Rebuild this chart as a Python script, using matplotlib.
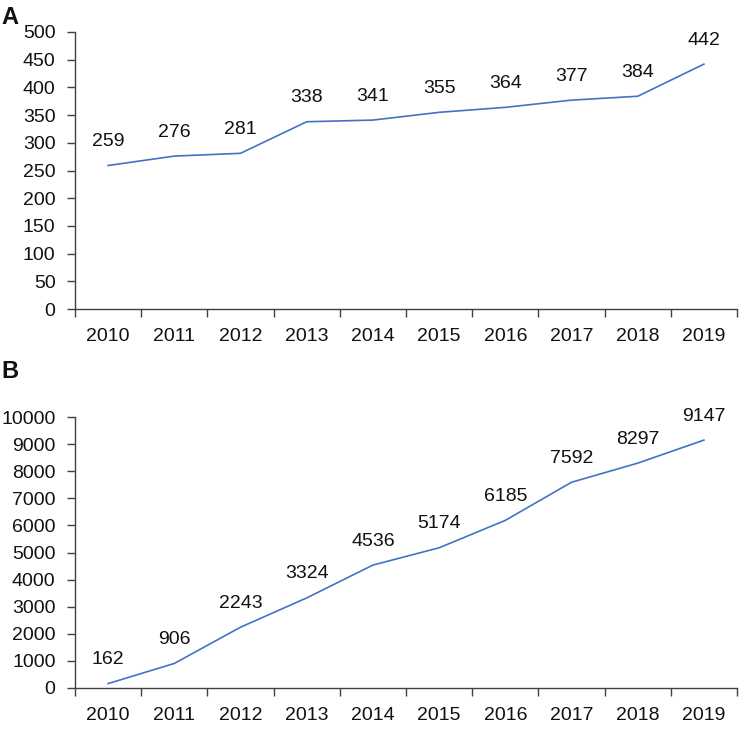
import matplotlib
matplotlib.use("Agg")
import matplotlib.pyplot as plt
import numpy as np

years = ["2010", "2011", "2012", "2013", "2014", "2015", "2016", "2017", "2018", "2019"]
values_a = [259, 276, 281, 338, 341, 355, 364, 377, 384, 442]
values_b = [162, 906, 2243, 3324, 4536, 5174, 6185, 7592, 8297, 9147]
yticks_a = list(range(0, 501, 50))
yticks_b = list(range(0, 10001, 1000))

plt.rcParams['font.family'] = ['Liberation Sans', 'DejaVu Sans']
FS = 14
TXT = '#111111'
AX = '#404040'
LINE = '#4472C4'

fig = plt.figure(figsize=(7.5, 7.32), dpi=100)
W, H = 750, 732

def make_ax(top_px, bottom_px):
    left, right = 75, 737
    return fig.add_axes([left / W, 1 - bottom_px / H, (right - left) / W, (bottom_px - top_px) / H])

def style(ax, vals, yticks):
    x = np.arange(len(years))
    ax.plot(x, vals, color=LINE, lw=1.2)
    for xi, v in zip(x, vals):
        ax.annotate(str(v), (xi, v), xytext=(0, 24), textcoords='offset pixels',
                    ha='center', va='center', fontsize=FS, color=TXT)
    ax.set_xlim(-0.5, len(years) - 0.5)
    ax.set_ylim(yticks[0], yticks[-1])
    ax.set_yticks(yticks)
    ax.set_yticklabels([str(t) for t in yticks])
    ax.set_xticks(np.arange(-0.5, len(years), 1.0))
    ax.set_xticklabels([])
    ax.set_xticks(x, minor=True)
    ax.set_xticklabels(years, minor=True)
    ax.tick_params(axis='x', which='major', length=6, width=1.0, color=AX, direction='out')
    ax.tick_params(axis='x', which='minor', length=0, pad=14, labelsize=FS, labelcolor=TXT)
    ax.tick_params(axis='y', length=6, width=1.0, color=AX, pad=8, labelsize=FS, labelcolor=TXT)
    for s in ['top', 'right']:
        ax.spines[s].set_visible(False)
    for s in ['left', 'bottom']:
        ax.spines[s].set_color(AX)
        ax.spines[s].set_linewidth(1.0)
    ax.patch.set_visible(False)

ax_a = make_ax(32, 309)
style(ax_a, values_a, yticks_a)
ax_b = make_ax(417, 688)
style(ax_b, values_b, yticks_b)

fig.text(1 / W, 1 - 17 / H, 'A', fontsize=17, fontweight='bold', ha='left', va='center', color=TXT)
fig.text(1 / W, 1 - 372 / H, 'B', fontsize=17, fontweight='bold', ha='left', va='center', color=TXT)

fig.savefig('out.png', dpi=100)
